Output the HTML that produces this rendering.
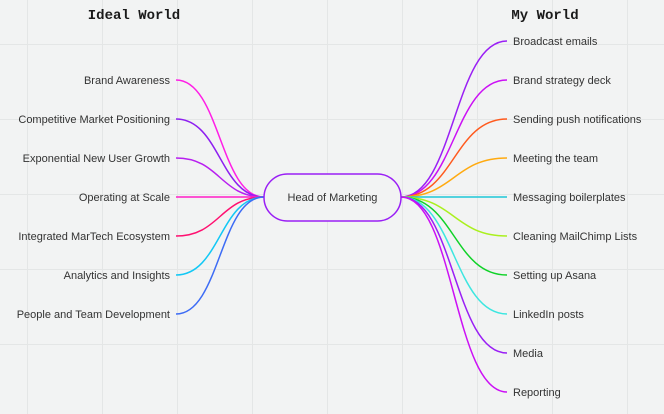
<!DOCTYPE html>
<html><head><meta charset="utf-8"><style>
html,body{margin:0;padding:0;background:#f2f3f3;width:664px;height:414px;overflow:hidden}
svg{display:block}
.t{font-family:"Liberation Sans",sans-serif;font-size:11px;fill:#333}
.h{font-family:"Liberation Mono",monospace;font-size:14px;font-weight:bold;fill:#1a1a1a}
</style></head><body>
<svg width="664" height="414" viewBox="0 0 664 414">
<g stroke="#e4e6e6" stroke-width="1">
<line x1="27.5" y1="0" x2="27.5" y2="414"/><line x1="102.5" y1="0" x2="102.5" y2="414"/><line x1="177.5" y1="0" x2="177.5" y2="414"/><line x1="252.5" y1="0" x2="252.5" y2="414"/><line x1="327.5" y1="0" x2="327.5" y2="414"/><line x1="402.5" y1="0" x2="402.5" y2="414"/><line x1="477.5" y1="0" x2="477.5" y2="414"/><line x1="552.5" y1="0" x2="552.5" y2="414"/><line x1="627.5" y1="0" x2="627.5" y2="414"/>
<line x1="0" y1="44.5" x2="664" y2="44.5"/><line x1="0" y1="119.5" x2="664" y2="119.5"/><line x1="0" y1="194.5" x2="664" y2="194.5"/><line x1="0" y1="269.5" x2="664" y2="269.5"/><line x1="0" y1="344.5" x2="664" y2="344.5"/>
</g>
<g fill="none" stroke-width="1.5">
<path d="M264 197 C220 197 220 80 176 80" stroke="#ff1ee6"/>
<path d="M264 197 C220 197 220 119 176 119" stroke="#8e1ff0"/>
<path d="M264 197 C220 197 220 158 176 158" stroke="#b81ff0"/>
<path d="M264 197 L176 197" stroke="#ff1ec8"/>
<path d="M264 197 C220 197 220 236 176 236" stroke="#ff1070"/>
<path d="M264 197 C220 197 220 275 176 275" stroke="#12c8f5"/>
<path d="M264 197 C220 197 220 314 176 314" stroke="#3d6cf5"/>
<path d="M401 197 C454 197 454 41 507 41" stroke="#9a1ff5"/>
<path d="M401 197 C454 197 454 80 507 80" stroke="#cc10f5"/>
<path d="M401 197 C454 197 454 119 507 119" stroke="#ff5a1e"/>
<path d="M401 197 C454 197 454 158 507 158" stroke="#ffaa10"/>
<path d="M401 197 L507 197" stroke="#1ec8d8"/>
<path d="M401 197 C454 197 454 236 507 236" stroke="#aaf01e"/>
<path d="M401 197 C454 197 454 275 507 275" stroke="#10d228"/>
<path d="M401 197 C454 197 454 314 507 314" stroke="#3ce6e0"/>
<path d="M401 197 C454 197 454 353 507 353" stroke="#9a1ff5"/>
<path d="M401 197 C454 197 454 392 507 392" stroke="#cc10f5"/>
</g>
<rect x="264" y="174" width="137" height="47" rx="23.5" fill="#f2f3f3" stroke="#9a1ff5" stroke-width="1.5"/>
<text class="t" x="332.5" y="201" text-anchor="middle">Head of Marketing</text>
<text class="h" x="134" y="19" text-anchor="middle">Ideal World</text>
<text class="h" x="545" y="19" text-anchor="middle">My World</text>
<g class="t" text-anchor="end">
<text x="170" y="84">Brand Awareness</text>
<text x="170" y="123">Competitive Market Positioning</text>
<text x="170" y="162">Exponential New User Growth</text>
<text x="170" y="201">Operating at Scale</text>
<text x="170" y="240">Integrated MarTech Ecosystem</text>
<text x="170" y="279">Analytics and Insights</text>
<text x="170" y="318">People and Team Development</text>
</g>
<g class="t">
<text x="513" y="45">Broadcast emails</text>
<text x="513" y="84">Brand strategy deck</text>
<text x="513" y="123">Sending push notifications</text>
<text x="513" y="162">Meeting the team</text>
<text x="513" y="201">Messaging boilerplates</text>
<text x="513" y="240">Cleaning MailChimp Lists</text>
<text x="513" y="279">Setting up Asana</text>
<text x="513" y="318">LinkedIn posts</text>
<text x="513" y="357">Media</text>
<text x="513" y="396">Reporting</text>
</g>
</svg>
</body></html>
